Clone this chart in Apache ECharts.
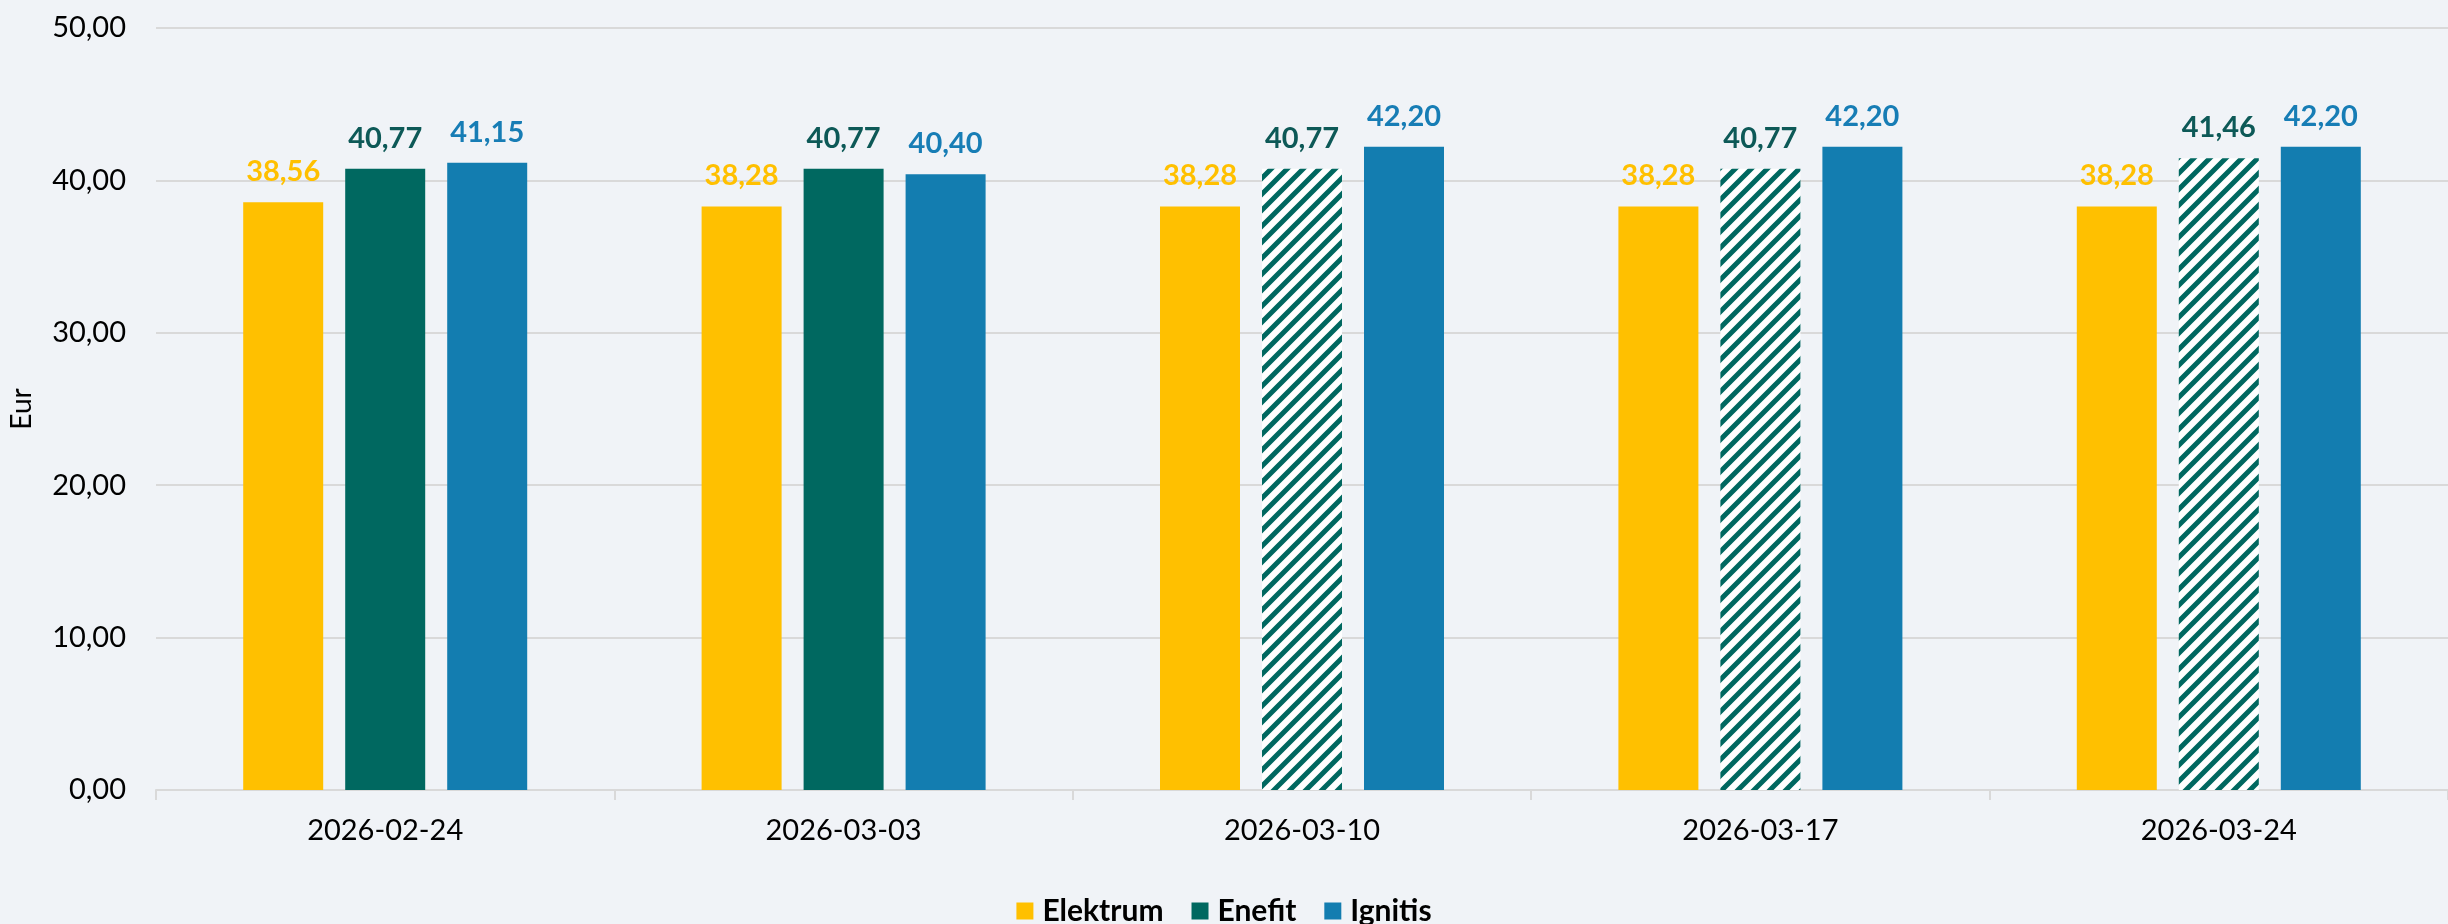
<!DOCTYPE html>
<html>
<head>
<meta charset="utf-8">
<title>Kainos</title>
<script src="https://cdn.jsdelivr.net/npm/echarts@6/dist/echarts.min.js"></script>
<style>
  html, body { margin: 0; padding: 0; background: #f0f3f7; }
  #main { width: 2448px; height: 924px; }
</style>
</head>
<body>
<div id="main"></div>
<script>
// duomenys
const categories = ['2026-02-24', '2026-03-03', '2026-03-10', '2026-03-17', '2026-03-24'];
const elektrum = [38.56, 38.28, 38.28, 38.28, 38.28];
const enefit = [40.77, 40.77, 40.77, 40.77, 41.46];
const ignitis = [41.15, 40.40, 42.20, 42.20, 42.20];
const enefitHatched = [false, false, true, true, true]; // brūkšniuoti stulpeliai
const yTicks = [0, 10, 20, 30, 40, 50];

const FONT = 'Lato, "Open Sans", sans-serif';
const C_YELLOW = '#ffc000';
const C_GREEN = '#006860';
const C_BLUE = '#137db0';

// įstrižų linijų raštas
function hatchPattern() {
  const s = 16;
  const cv = document.createElement('canvas');
  cv.width = s; cv.height = s;
  const ctx = cv.getContext('2d');
  ctx.fillStyle = '#ffffff';
  ctx.fillRect(0, 0, s, s);
  ctx.strokeStyle = C_GREEN;
  ctx.lineWidth = 5;
  ctx.beginPath();
  ctx.moveTo(-4, s + 4); ctx.lineTo(s + 4, -4);
  ctx.moveTo(-4, 4); ctx.lineTo(4, -4);
  ctx.moveTo(s - 4, s + 4); ctx.lineTo(s + 4, s - 4);
  ctx.stroke();
  return { image: cv, repeat: 'repeat' };
}
const hatch = hatchPattern();

const fmt = v => v.toFixed(2).replace('.', ',');

function labelOf(color) {
  return {
    show: true,
    position: 'top',
    distance: 16,
    color: color,
    fontFamily: FONT,
    fontWeight: 'bold',
    fontSize: 29,
    lineHeight: 29,
    formatter: p => fmt(p.value)
  };
}

const myChart = echarts.init(document.getElementById('main'));

const option = {
  backgroundColor: '#f0f3f7',
  animation: false,
  grid: { left: 153, top: 28, width: 2302, height: 762 },
  legend: {
    bottom: -7,
    left: 'center',
    itemWidth: 17,
    itemHeight: 17,
    itemGap: 28,
    icon: 'rect',
    textStyle: { fontFamily: FONT, fontWeight: 'bold', fontSize: 30, color: '#000', padding: [0, 0, 0, 4] },
    data: ['Elektrum', 'Enefit', 'Ignitis']
  },
  xAxis: {
    type: 'category',
    data: categories,
    axisLine: { lineStyle: { color: '#d9d9d9', width: 2 } },
    axisTick: { show: true, length: 10, lineStyle: { color: '#d9d9d9', width: 2 } },
    axisLabel: { margin: 26, fontFamily: FONT, fontSize: 29, color: '#000' }
  },
  yAxis: {
    type: 'value',
    min: yTicks[0],
    max: yTicks[yTicks.length - 1],
    interval: yTicks[1] - yTicks[0],
    name: 'Eur',
    nameLocation: 'middle',
    nameGap: 120,
    nameTextStyle: { fontFamily: FONT, fontSize: 28, color: '#000' },
    axisLine: { show: false },
    axisTick: { show: false },
    axisLabel: { margin: 30, fontFamily: FONT, fontSize: 29, color: '#000', formatter: fmt },
    splitLine: { lineStyle: { color: '#d9d9d9', width: 2 } }
  },
  series: [
    {
      name: 'Elektrum', type: 'bar', barWidth: 80, barGap: '27.5%',
      itemStyle: { color: C_YELLOW },
      label: labelOf(C_YELLOW),
      data: elektrum
    },
    {
      name: 'Enefit', type: 'bar', barWidth: 80, barGap: '27.5%',
      itemStyle: { color: C_GREEN },
      label: labelOf('#0d5957'),
      data: enefit.map((v, i) => enefitHatched[i]
        ? { value: v, itemStyle: { color: hatch } }
        : v)
    },
    {
      name: 'Ignitis', type: 'bar', barWidth: 80, barGap: '27.5%',
      itemStyle: { color: C_BLUE },
      label: labelOf('#177db5'),
      data: ignitis
    }
  ]
};

myChart.setOption(option);
</script>
</body>
</html>
